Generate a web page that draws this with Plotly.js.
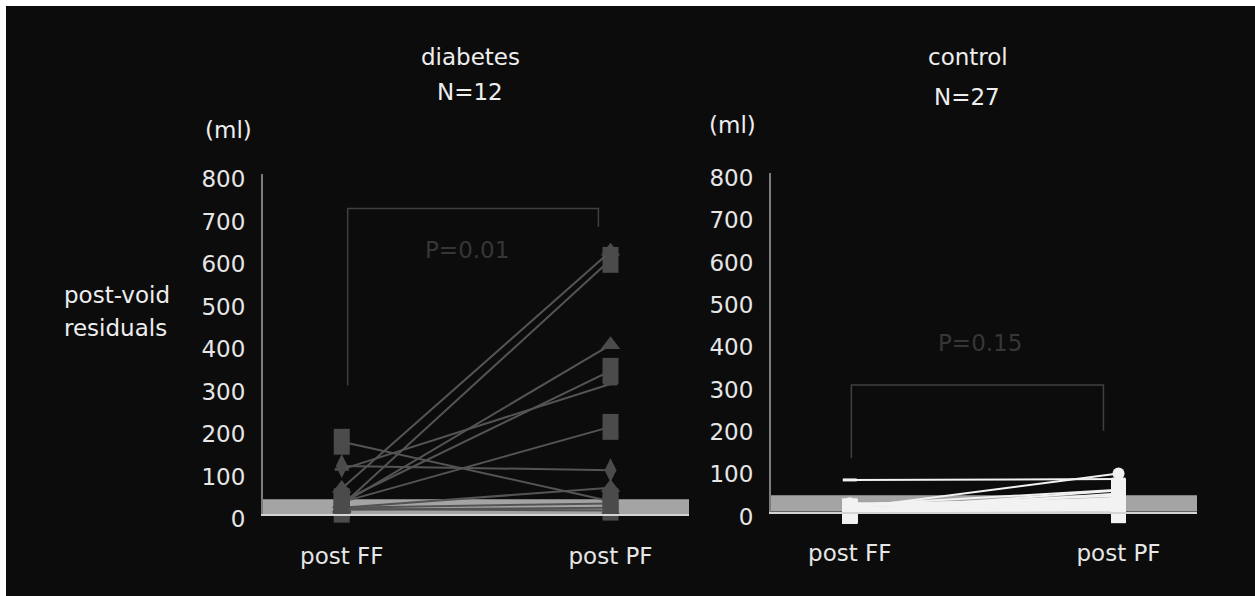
<!DOCTYPE html>
<html>
<head>
<meta charset="utf-8">
<script src="https://cdn.plot.ly/plotly-3.0.1.min.js"></script>
<style>
  html, body { margin: 0; padding: 0; background: #ffffff; width: 1255px; height: 596px; overflow: hidden; }
  #chart { position: absolute; left: 6px; top: 6px; width: 1249px; height: 590px; }
</style>
</head>
<body>
<div id="chart"></div>
<script>
// ---- data ----
const xCategories = ['post FF', 'post PF'];
const yTickValues = [0, 100, 200, 300, 400, 500, 600, 700, 800];

// diabetes group (N=12): residual volume (ml) post FF and post PF
const diabetesFF = [170, 113, 105, 30, 20, 60, 24, 28, 15, 15, 10, 12];
const diabetesPF = [30, 103, 306, 337, 598, 618, 398, 205, 62, 25, 15, 8];
const diabetesMarkers = ['square', 'diamond', 'dash', 'square', 'square', 'triangle',
                         'triangle', 'square', 'triangle', 'diamond', 'square', 'triangle'];

// control group (N=27)
const controlFF = [75, 8, 15, 3, 0, 12, 2, 2, 18, 0, 8, 1, 14, 0, 1, 20, 6, 0, 10, 2, 5, 0, 16, 3, 9, 1, 0];
const controlPF = [77, 90, 52, 50, 43, 38, 33, 28, 30, 25, 22, 20, 18, 16, 12, 14, 10, 9, 8, 6, 15, 4, 24, 7, 3, 1, 5];
const controlMarkers = ['dash', 'circle', 'circle', 'square', 'square', 'circle', 'square', 'square', 'circle',
                        'square', 'circle', 'square', 'circle', 'square', 'square', 'circle', 'circle', 'square',
                        'circle', 'square', 'circle', 'square', 'circle', 'square', 'circle', 'square', 'square'];

const panelTitles = ['diabetes', 'N=12', 'control', 'N=27'];
const pValues = ['P=0.01', 'P=0.15'];

// ---- styling ----
const FONT = 'DejaVu Sans, Verdana, sans-serif';
const DARK = '#4b4b4b';
const LIGHT = '#f2f2f2';

function markerFor(kind, color, big) {
  if (kind === 'square') {
    return big ? {symbol: 'line-ns', size: 18.5, color: color, line: {color: color, width: 16}}
               : {symbol: 'line-ns', size: 17, color: color, line: {color: color, width: 15}};
  }
  if (kind === 'diamond') return {symbol: 'diamond-tall', size: 17, color: color, line: {width: 0}};
  if (kind === 'triangle') return {symbol: 'triangle-up', size: 17, color: color, line: {width: 0}};
  if (kind === 'circle') return {symbol: 'circle', size: 12, color: color, line: {width: 0}};
  if (kind === 'dash') return {symbol: 'line-ew', size: 10, color: color, line: {color: color, width: 3}};
  return {symbol: 'circle', size: 8, color: color};
}

const traces = [];
diabetesFF.forEach((ff, i) => {
  traces.push({
    type: 'scatter', mode: 'lines+markers',
    x: xCategories, y: [ff, diabetesPF[i]],
    xaxis: 'x', yaxis: 'y',
    line: {color: '#545454', width: 2},
    marker: markerFor(diabetesMarkers[i], DARK, true),
    cliponaxis: false, hoverinfo: 'skip'
  });
});
controlFF.forEach((ff, i) => {
  traces.push({
    type: 'scatter', mode: 'lines+markers',
    x: xCategories, y: [ff, controlPF[i]],
    xaxis: 'x2', yaxis: 'y2',
    line: {color: LIGHT, width: 2},
    marker: markerFor(controlMarkers[i], LIGHT, false),
    cliponaxis: false, hoverinfo: 'skip'
  });
});

const xCommon = {
  type: 'category', range: [-0.293, 1.292],
  showgrid: false, zeroline: false, showline: true,
  linecolor: '#d4d4d4', linewidth: 2, ticks: '',
  tickfont: {family: FONT, size: 23, color: '#e6e6e6'},
  ticklabelstandoff: 20, fixedrange: true
};
const yCommon = {
  range: [0, 800], tickmode: 'array', tickvals: yTickValues,
  showgrid: false, zeroline: false, showline: true,
  linecolor: '#7c7c7c', linewidth: 2, ticks: '',
  tickfont: {family: FONT, size: 23, color: '#e6e6e6'},
  ticklabelstandoff: 11, ticklabelshift: 5, fixedrange: true
};

function px(X) { return (X - 6) / 1249; }
function py(Y) { return 1 - (Y - 6) / 590; }
function textAnn(text, X, Y, extra) {
  return Object.assign({
    text: text, xref: 'paper', yref: 'paper', x: px(X), y: py(Y),
    xanchor: 'center', yanchor: 'middle', showarrow: false,
    font: {family: FONT, size: 23, color: '#eeeeee'}
  }, extra || {});
}

const layout = {
  width: 1249, height: 590,
  margin: {l: 0, r: 0, t: 0, b: 0},
  paper_bgcolor: '#0c0c0c', plot_bgcolor: 'rgba(0,0,0,0)',
  showlegend: false,
  xaxis: Object.assign({}, xCommon, {domain: [px(263), px(689)], anchor: 'y'}),
  yaxis: Object.assign({}, yCommon, {domain: [py(514), py(174)], anchor: 'x'}),
  xaxis2: Object.assign({}, xCommon, {domain: [px(771), px(1197)], anchor: 'y2'}),
  yaxis2: Object.assign({}, yCommon, {domain: [py(511.7), py(172.7)], anchor: 'x2'}),
  shapes: [
    {type: 'rect', xref: 'x domain', yref: 'y', x0: 0, x1: 1, y0: 0, y1: 35,
     fillcolor: '#a4a4a4', line: {width: 0}, layer: 'below'},
    {type: 'rect', xref: 'x2 domain', yref: 'y2', x0: 0, x1: 1, y0: 0, y1: 39,
     fillcolor: '#a4a4a4', line: {width: 0}, layer: 'below'},
    {type: 'path', xref: 'x', yref: 'y', path: 'M0.022,303 L0.022,719 L0.955,719 L0.955,676',
     line: {color: '#404040', width: 1.5}, layer: 'below'},
    {type: 'path', xref: 'x2', yref: 'y2', path: 'M0.006,127 L0.006,299 L0.944,299 L0.944,191',
     line: {color: '#404040', width: 1.5}, layer: 'below'}
  ],
  annotations: [
    textAnn(panelTitles[0], 470, 57),
    textAnn(panelTitles[1], 470, 92),
    textAnn(panelTitles[2], 968, 57),
    textAnn(panelTitles[3], 967, 97),
    textAnn('(ml)', 228, 130),
    textAnn('(ml)', 732, 125),
    textAnn('post-void', 62, 295, {xanchor: 'left'}),
    textAnn('residuals', 62, 328, {xanchor: 'left'}),
    {text: pValues[0], xref: 'x', yref: 'y', x: 0.465, y: 621, showarrow: false,
     xanchor: 'center', yanchor: 'middle', font: {family: FONT, size: 23, color: '#363636'}},
    {text: pValues[1], xref: 'x2', yref: 'y2', x: 0.486, y: 398, showarrow: false,
     xanchor: 'center', yanchor: 'middle', font: {family: FONT, size: 23, color: '#363636'}}
  ]
};

Plotly.newPlot('chart', traces, layout, {staticPlot: true, displayModeBar: false});
</script>
</body>
</html>
